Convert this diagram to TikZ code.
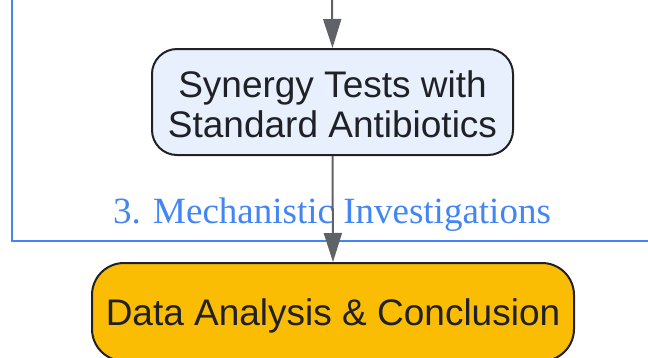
\documentclass[tikz,border=0pt]{standalone}
\usepackage{fontspec}
\setmainfont{Liberation Sans}
\newfontfamily\labelserif{Liberation Serif}
\usetikzlibrary{arrows.meta}
\definecolor{clusterblue}{HTML}{4285F4}
\definecolor{arrowgray}{HTML}{5F6368}
\definecolor{nodeborder}{HTML}{202124}
\definecolor{lightfill}{HTML}{E8F0FE}
\definecolor{goldfill}{HTML}{FBBC04}
\tikzset{
  stepbox/.style={draw=nodeborder, line width=2pt, align=center, inner sep=0pt,
    text=nodeborder, font=\fontsize{37}{40}\selectfont},
  conn/.style={draw=arrowgray, line width=2pt, -{Triangle[length=29pt,width=18pt]}},
  clusterline/.style={draw=clusterblue, line width=2pt},
}
\begin{document}
\begin{tikzpicture}[x=1pt,y=-1pt]
\useasboundingbox (0,0) rectangle (648,357);
% cluster border
\draw[clusterline] (12,-5) -- (12,241) -- (660,241);
\node[anchor=base, text=clusterblue, font=\labelserif\fontsize{37}{40}\selectfont, inner sep=0pt] (lbl) at (332,223) {3. Mechanistic Investigations};
% nodes
\node[stepbox, fill=lightfill, rounded corners=25pt, minimum width=361pt, minimum height=106pt] (n1) at (332.5,102) {\raisebox{-14pt}[0pt][0pt]{\begin{tabular}{@{}c@{}}Synergy Tests with\\Standard Antibiotics\end{tabular}}};
\node[stepbox, fill=goldfill, rounded corners=32pt, minimum width=482pt, minimum height=98pt] (n2) at (333,312) {\raisebox{-13pt}[0pt][0pt]{Data Analysis \& Conclusion}};
% connectors
\coordinate (top) at (332,-5);
\draw[conn] (top) -- (n1.north);
\draw[conn] (n1.south) -- (n2.north);
\end{tikzpicture}
\end{document}
